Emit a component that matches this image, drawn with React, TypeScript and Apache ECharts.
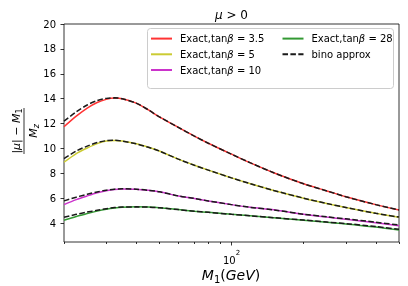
import React, { useEffect, useRef } from 'react';
import * as echarts from 'echarts';

// M1 (GeV) sample points
const M1 = [20, 22.5, 25, 27.5, 30, 32.5, 35, 40, 45, 50, 60, 70, 80, 100, 120, 150, 200, 250, 300, 400, 500];

// Exact curves
const exact35 = [11.75, 12.6, 13.25, 13.7, 13.95, 14.05, 14.0, 13.65, 13.1, 12.55, 11.7, 11.0, 10.43, 9.55, 8.85, 8.06, 7.17, 6.6, 6.13, 5.5, 5.07];
const exact5 = [8.9, 9.6, 10.05, 10.4, 10.6, 10.65, 10.6, 10.38, 10.1, 9.8, 9.15, 8.66, 8.27, 7.65, 7.18, 6.64, 6.02, 5.59, 5.27, 4.8, 4.48];
const exact10 = [5.5, 5.9, 6.2, 6.45, 6.62, 6.72, 6.76, 6.74, 6.65, 6.53, 6.2, 6.0, 5.8, 5.5, 5.28, 5.08, 4.72, 4.5, 4.33, 4.05, 3.8];
const exact28 = [4.25, 4.55, 4.78, 4.98, 5.13, 5.23, 5.29, 5.32, 5.3, 5.25, 5.1, 4.97, 4.88, 4.72, 4.6, 4.45, 4.25, 4.08, 3.95, 3.7, 3.46];

// Bino approximation curves
const bino35 = [12.2, 12.95, 13.5, 13.85, 14.03, 14.07, 14.0, 13.65, 13.1, 12.55, 11.7, 11.0, 10.43, 9.55, 8.85, 8.06, 7.17, 6.6, 6.13, 5.5, 5.07];
const bino5 = [9.2, 9.8, 10.2, 10.48, 10.63, 10.67, 10.6, 10.38, 10.1, 9.8, 9.15, 8.66, 8.27, 7.65, 7.18, 6.64, 6.02, 5.59, 5.27, 4.8, 4.5];
const bino10 = [5.8, 6.1, 6.33, 6.52, 6.66, 6.74, 6.77, 6.74, 6.65, 6.53, 6.2, 6.0, 5.8, 5.5, 5.28, 5.08, 4.73, 4.52, 4.36, 4.09, 3.86];
const bino28 = [4.48, 4.72, 4.9, 5.05, 5.17, 5.26, 5.3, 5.32, 5.3, 5.25, 5.1, 4.97, 4.88, 4.72, 4.6, 4.45, 4.26, 4.1, 3.98, 3.74, 3.52];

const exactNames = ['Exact,tanβ = 3.5', 'Exact,tanβ = 5', 'Exact,tanβ = 10', 'Exact,tanβ = 28'];
const binoName = 'bino approx';
const exactColors = ['#ff3333', '#cbcb33', '#cb33cb', '#339933'];

const xMajorTicks = [100];
const xMinorTicks = [20, 30, 40, 50, 60, 70, 80, 90, 200, 300, 400, 500];
const yTicks = [4, 6, 8, 10, 12, 14, 16, 18, 20];

const FONT = 'DejaVu Sans';

export default function App() {
  const ref = useRef<HTMLDivElement>(null);
  useEffect(() => {
    if (!ref.current) return;
    const chart = echarts.init(ref.current, null, { renderer: 'svg' });
    const exactData = [exact35, exact5, exact10, exact28];
    const binoData = [bino35, bino5, bino10, bino28];
    const pts = (arr: number[]) => M1.map((m, i) => [m, arr[i]]);

    const series: any[] = [];
    exactData.forEach((arr, i) => {
      series.push({
        type: 'line', name: exactNames[i], data: pts(arr), xAxisIndex: 0,
        showSymbol: false, symbol: 'none', smooth: 0.3,
        lineStyle: { color: exactColors[i], width: 1.5 }, itemStyle: { color: exactColors[i] },
        z: 2,
      });
    });
    binoData.forEach((arr) => {
      series.push({
        type: 'line', name: binoName, data: pts(arr), xAxisIndex: 0,
        showSymbol: false, symbol: 'none', smooth: 0.3,
        lineStyle: { color: '#1a1a1a', width: 1.5, type: [5.5, 2.4] }, itemStyle: { color: '#1a1a1a' },
        z: 3,
      });
    });

    const legendRich = { i: { fontStyle: 'italic', fontSize: 10, fontFamily: FONT, color: '#000' } };
    const legendCommon = {
      orient: 'vertical', top: 33, itemWidth: 21, itemHeight: 14, itemGap: 4.5, padding: 0,
      itemStyle: { opacity: 0 },
      textStyle: { fontSize: 10, fontFamily: FONT, color: '#000', padding: [0, 0, 0, 3], rich: legendRich },
      formatter: (n: string) => n.replace('β', '{i|β}'),
      z: 6,
    };

    const axisTickStyle = { color: '#000', width: 0.8 };
    const option: any = {
      animation: false,
      grid: { left: 64, right: 9, top: 24, bottom: 44, show: true, borderColor: '#000', borderWidth: 0.8, backgroundColor: 'transparent' },
      xAxis: [
        {
          type: 'log', logBase: 10, min: 20, max: 500, position: 'bottom',
          axisLine: { show: false }, splitLine: { show: false },
          axisTick: { show: true, customValues: xMajorTicks, length: 3.5, lineStyle: axisTickStyle },
          axisLabel: {
            customValues: xMajorTicks, margin: 7,
            formatter: () => '{b|10}{s|2}',
            rich: {
              b: { fontSize: 10, fontFamily: FONT, color: '#000', lineHeight: 16, verticalAlign: 'bottom' },
              s: { fontSize: 7, fontFamily: FONT, color: '#000', lineHeight: 8, verticalAlign: 'top' },
            },
          },
        },
        {
          type: 'log', logBase: 10, min: 20, max: 500, position: 'bottom',
          axisLine: { show: false }, splitLine: { show: false },
          axisTick: { show: true, customValues: xMinorTicks, length: 2, lineStyle: axisTickStyle },
          axisLabel: { show: false },
        },
      ],
      yAxis: {
        type: 'value', min: 2.5, max: 20,
        axisLine: { show: false }, splitLine: { show: false },
        axisTick: { show: true, customValues: yTicks, length: 3.5, lineStyle: axisTickStyle },
        axisLabel: { customValues: yTicks, margin: 8, fontSize: 10, fontFamily: FONT, color: '#000' },
      },
      legend: [
        { ...legendCommon, left: 150, data: exactNames.slice(0, 3) },
        { ...legendCommon, left: 281.5, data: [exactNames[3], binoName] },
      ],
      graphic: [
        {
          type: 'rect', z: 5,
          shape: { x: 147.5, y: 28.5, width: 246, height: 60, r: 3 },
          style: { fill: 'rgba(255,255,255,0.8)', stroke: '#cccccc', lineWidth: 1 },
        },
        {
          type: 'text', x: 231.5, y: 15, z: 10,
          style: {
            text: '{i|μ} > 0', align: 'center', verticalAlign: 'middle',
            fontSize: 12, fontFamily: FONT, fill: '#000',
            rich: { i: { fontStyle: 'italic', fontSize: 12, fontFamily: FONT } },
          },
        },
        {
          type: 'text', x: 231, y: 275, z: 10,
          style: {
            text: '{i|M}{sub|1}{n|(}{i|GeV}{n|)}', align: 'center', verticalAlign: 'middle',
            fontSize: 14, fontFamily: FONT, fill: '#000',
            rich: {
              i: { fontStyle: 'italic', fontSize: 14, fontFamily: FONT, lineHeight: 18 },
              n: { fontSize: 14, fontFamily: FONT, lineHeight: 18 },
              sub: { fontSize: 10, fontFamily: FONT, lineHeight: 10, verticalAlign: 'bottom' },
            },
          },
        },
        {
          type: 'group', x: 24, y: 131, rotation: Math.PI / 2, z: 10,
          children: [
            {
              type: 'text', x: 0, y: -8, z: 10,
              style: {
                text: '{n||}{i|μ}{n||} {n|−} {i|M}{sub|1}', align: 'center', verticalAlign: 'middle',
                fontSize: 11, fontFamily: FONT, fill: '#000',
                rich: {
                  i: { fontStyle: 'italic', fontSize: 11, fontFamily: FONT, lineHeight: 14 },
                  n: { fontSize: 11, fontFamily: FONT, lineHeight: 14 },
                  sub: { fontSize: 8, fontFamily: FONT, lineHeight: 8, verticalAlign: 'bottom' },
                },
              },
            },
            {
              type: 'line', z: 10,
              shape: { x1: -23, y1: 0, x2: 23, y2: 0 },
              style: { stroke: '#000', lineWidth: 0.8 },
            },
            {
              type: 'text', x: 0, y: 9, z: 10,
              style: {
                text: '{i|M}{sub|z}', align: 'center', verticalAlign: 'middle',
                fontSize: 11, fontFamily: FONT, fill: '#000',
                rich: {
                  i: { fontStyle: 'italic', fontSize: 11, fontFamily: FONT, lineHeight: 14 },
                  sub: { fontStyle: 'italic', fontSize: 8, fontFamily: FONT, lineHeight: 8, verticalAlign: 'bottom' },
                },
              },
            },
          ],
        },
      ],
      series,
    };
    chart.setOption(option);
    return () => chart.dispose();
  }, []);
  return <div ref={ref} style={{ position: 'fixed', left: 0, top: 0, width: 408, height: 286 }} />;
}
